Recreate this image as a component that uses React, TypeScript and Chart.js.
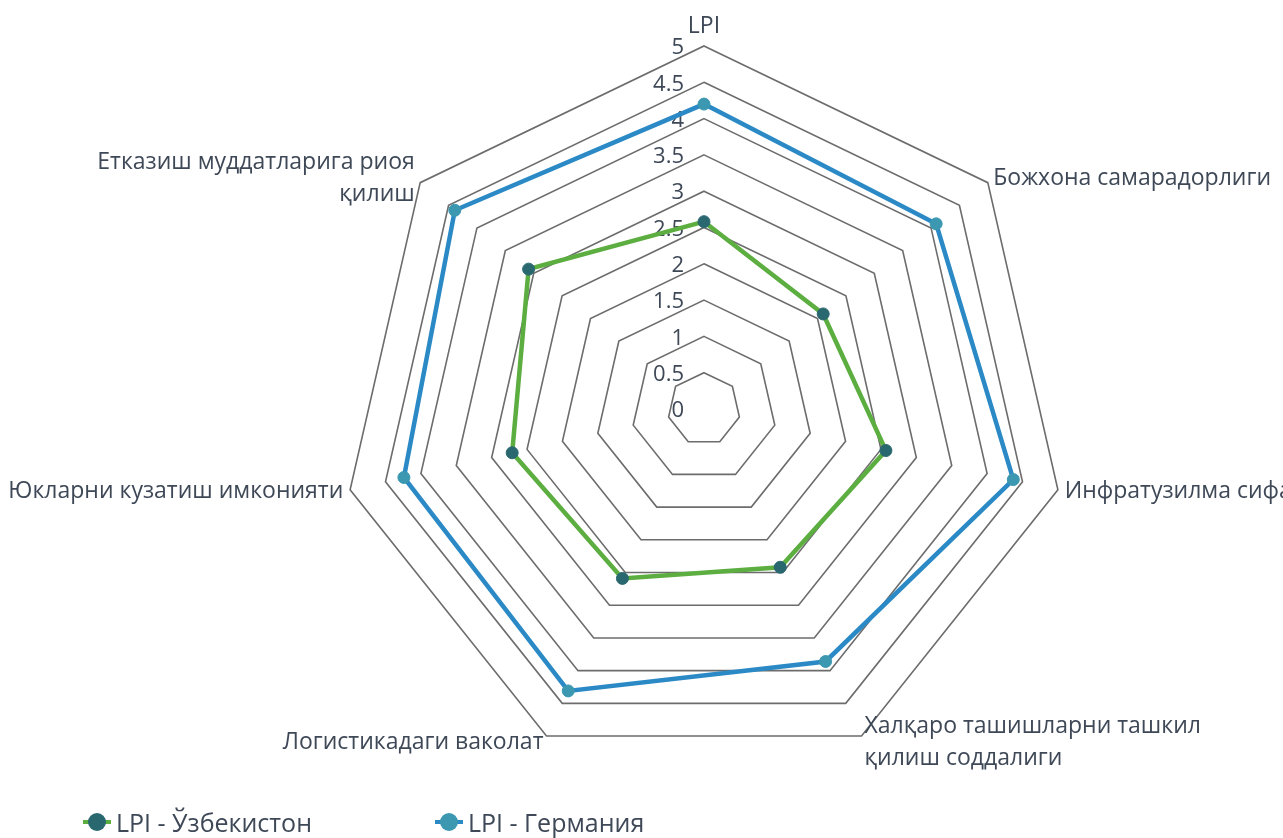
import React, { useEffect, useRef } from "react";
import { Chart, registerables } from "chart.js";

Chart.register(...registerables);

// ---------- data ----------
const categories: (string | string[])[] = [
  "LPI",
  "Божхона самарадорлиги",
  "Инфратузилма сифати",
  ["Халқаро ташишларни ташкил", "қилиш соддалиги"],
  "Логистикадаги ваколат",
  "Юкларни кузатиш имконияти",
  ["Етказиш муддатларига риоя", "қилиш"],
];
const seriesNames = ["LPI - Ўзбекистон", "LPI - Германия"];
const uzbekistan = [2.58, 2.1, 2.57, 2.42, 2.59, 2.71, 3.09];
const germany = [4.2, 4.09, 4.37, 3.86, 4.31, 4.24, 4.39];
const scaleMin = 0;
const scaleMax = 5;
const scaleStep = 0.5;

// ---------- styles ----------
const FONT = '"Open Sans", "Noto Sans", sans-serif';
const TEXT = "#3e4857";
const GRID = "#6c6c6c";
const lineColors = ["#5cae40", "#2b8ac6"];
const pointColors = ["#2a6870", "#3b98b0"];

const labelPlugin = {
  id: "customRadarText",
  beforeDatasetsDraw(chart: any) {
    const scale = chart.scales.r;
    const ctx = chart.ctx;
    ctx.save();
    ctx.font = `22px ${FONT}`;
    ctx.fillStyle = TEXT;
    ctx.textAlign = "right";
    ctx.textBaseline = "middle";
    scale.ticks.forEach((t: any) => {
      const d = scale.getDistanceFromCenterForValue(t.value);
      ctx.fillText(String(t.value), scale.xCenter - 20, scale.yCenter - d + 2);
    });
    ctx.restore();
  },
  afterDraw(chart: any) {
    const scale = chart.scales.r;
    const ctx = chart.ctx;
    const labels = chart.data.labels as (string | string[])[];
    const n = labels.length;
    const lh = 32;
    ctx.save();
    ctx.font = `23px ${FONT}`;
    ctx.fillStyle = TEXT;
    labels.forEach((lab, i) => {
      const lines = Array.isArray(lab) ? lab : [lab];
      const deg = (i * 360) / n;
      if (deg === 0) {
        const p = scale.getPointPosition(i, scale.drawingArea + 8);
        ctx.textAlign = "center";
        ctx.textBaseline = "bottom";
        lines
          .slice()
          .reverse()
          .forEach((t, k) => ctx.fillText(t, p.x, p.y - k * lh));
      } else {
        const p = scale.getPointPosition(i, scale.drawingArea + 7);
        ctx.textAlign = deg < 180 ? "left" : "right";
        ctx.textBaseline = "middle";
        const y0 = p.y - ((lines.length - 1) * lh) / 2;
        lines.forEach((t, k) => ctx.fillText(t, p.x, y0 + k * lh));
      }
    });
    ctx.restore();
  },
};

function LegendItem({ idx, left }: { idx: number; left: number }) {
  return (
    <div
      style={{
        position: "absolute",
        left,
        top: 807,
        height: 30,
        display: "flex",
        alignItems: "center",
        fontFamily: FONT,
        fontSize: 25,
        color: TEXT,
        whiteSpace: "nowrap",
      }}
    >
      <div style={{ position: "relative", width: 28, height: 30, marginRight: 5 }}>
        <div
          style={{
            position: "absolute",
            left: 0,
            top: 13,
            width: 28,
            height: 4,
            background: lineColors[idx],
          }}
        />
        <div
          style={{
            position: "absolute",
            left: 5,
            top: 6,
            width: 18,
            height: 18,
            borderRadius: "50%",
            background: pointColors[idx],
          }}
        />
      </div>
      <span>{seriesNames[idx]}</span>
    </div>
  );
}

export default function App() {
  const ref = useRef<HTMLCanvasElement>(null);
  useEffect(() => {
    if (!ref.current) return;
    const chart = new Chart(ref.current, {
      type: "radar",
      data: {
        labels: categories as any,
        datasets: [uzbekistan, germany].map((d, i) => ({
          label: seriesNames[i],
          data: d,
          borderColor: lineColors[i],
          backgroundColor: "transparent",
          fill: false,
          borderWidth: 4.5,
          tension: 0,
          pointRadius: 6,
          pointBackgroundColor: pointColors[i],
          pointBorderColor: pointColors[i],
          pointBorderWidth: 1,
        })),
      },
      options: {
        responsive: true,
        maintainAspectRatio: false,
        animation: false,
        layout: { padding: { left: 341, right: 216, top: 46, bottom: 66 } },
        plugins: { legend: { display: false }, tooltip: { enabled: false } },
        scales: {
          r: {
            min: scaleMin,
            max: scaleMax,
            beginAtZero: true,
            ticks: { stepSize: scaleStep, display: false },
            grid: { color: GRID, lineWidth: 1.6 },
            angleLines: { display: false },
            pointLabels: { display: false },
          },
        },
      },
      plugins: [labelPlugin],
    });
    return () => chart.destroy();
  }, []);
  return (
    <div
      style={{
        position: "absolute",
        left: 0,
        top: 0,
        width: 1283,
        height: 838,
        background: "#fff",
        overflow: "hidden",
      }}
    >
      <div style={{ position: "absolute", left: 0, top: 0, width: 1283, height: 838 }}>
        <canvas ref={ref} />
      </div>
      <LegendItem idx={0} left={83} />
      <LegendItem idx={1} left={435} />
    </div>
  );
}
